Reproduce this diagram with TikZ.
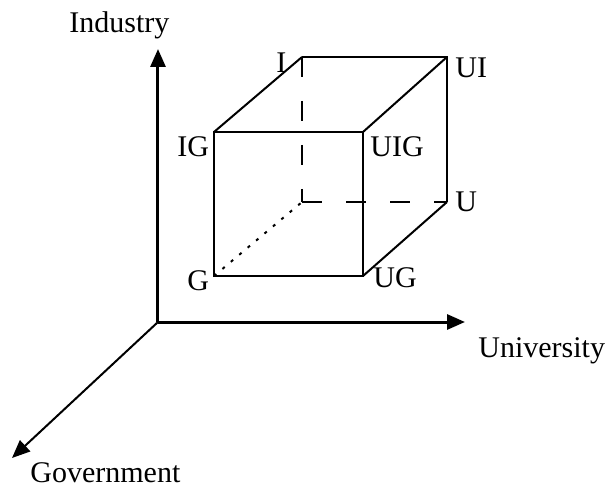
\documentclass[tikz,border=0pt]{standalone}
\usepackage{fontspec}
\setmainfont{Liberation Serif}
\usetikzlibrary{arrows.meta}
\tikzset{
  axis/.style={line width=1.5pt,-{Triangle[length=9pt,width=7.5pt]}},
  edge/.style={line width=1.4pt},
  slant/.style={line width=1pt},
  hidden/.style={line width=1pt,dash pattern=on 10pt off 12pt},
  lbl/.style={anchor=base west,inner sep=0pt,font=\fontsize{15}{18}\selectfont},
}
\begin{document}
\begin{tikzpicture}[x=0.5pt,y=0.5pt]
\useasboundingbox (-158,-165) rectangle (458,322);
% axes
\coordinate (O) at (0,0);
\coordinate (Itip) at (0,273);
\coordinate (Utip) at (307,0);
\coordinate (Gtip) at (-146,-136);
\draw[axis] (O) -- (Itip);
\draw[axis] (O) -- (Utip);
\draw[axis,line width=1pt] (O) -- (Gtip);
% cube corners
\coordinate (G) at (56,46);   \coordinate (UG) at (205,46);
\coordinate (IG) at (56,190); \coordinate (UIG) at (205,190);
\coordinate (B) at (144,120); \coordinate (U) at (289,120);
\coordinate (I) at (144,265); \coordinate (UI) at (289,265);
\draw[edge] (G) -- (UG) -- (UIG) -- (IG) -- cycle;
\draw[edge] (I) -- (UI) -- (U);
\draw[slant] (IG) -- (I);
\draw[slant] (UIG) -- (UI);
\draw[slant] (UG) -- (U);
% hidden edges
\draw[hidden] (I) -- (B);
\draw[hidden] (B) -- (U);
\draw[line width=1pt,dash pattern=on 1.5pt off 4pt] (G) -- (B);
% labels
\node[lbl] (lInd) at (-89,289) {Industry};
\node[lbl] (lUni) at (320,-35) {University};
\node[lbl] (lGov) at (-128,-160) {Government};
\node[lbl] (lI) at (118,249) {I};
\node[lbl] (lUI) at (297,244) {UI};
\node[lbl] (lU) at (297,110) {U};
\node[lbl] (lIG) at (19,165) {IG};
\node[lbl] (lUIG) at (212,165) {UIG};
\node[lbl] (lG) at (29,32) {G};
\node[lbl] (lUG) at (215,34) {UG};
\end{tikzpicture}
\end{document}
